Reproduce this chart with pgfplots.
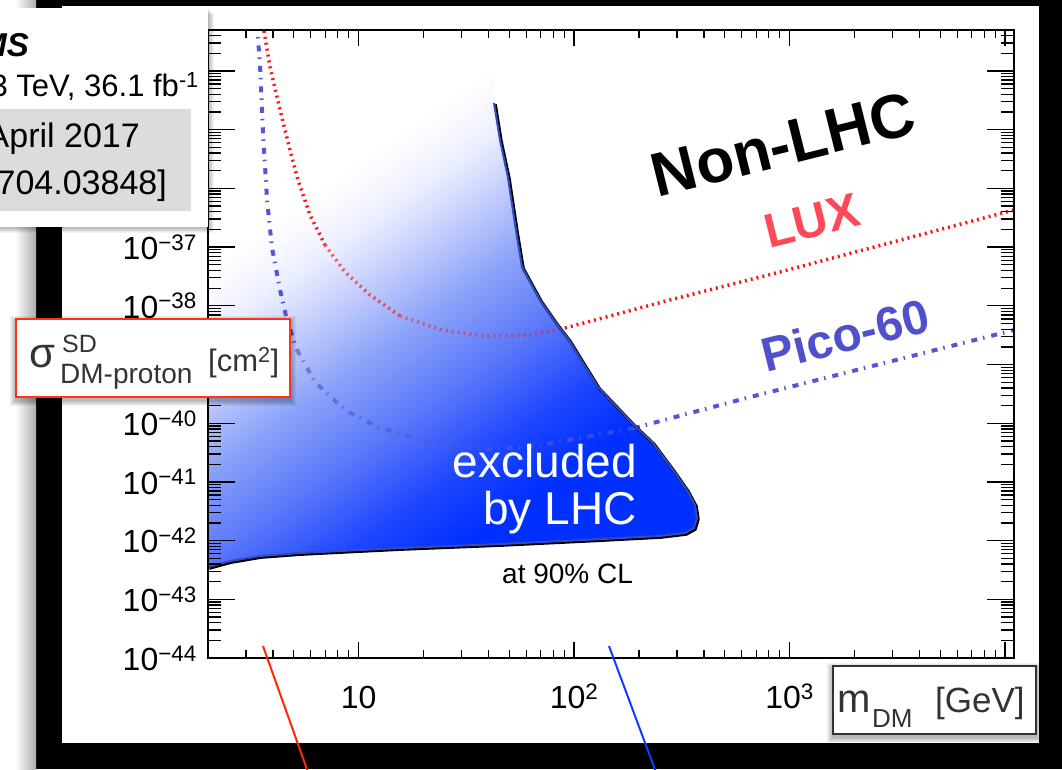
\documentclass[border=0pt]{standalone}
\usepackage{fontspec}
\setmainfont{Liberation Sans}
\usepackage{pgfplots}
\pgfplotsset{compat=1.18}
\newcommand\fs[1]{\fontsize{#1}{#1}\selectfont}
\definecolor{luxred}{RGB}{255,20,20}
\definecolor{picoblue}{RGB}{85,85,215}
\definecolor{luxtext}{RGB}{255,72,88}
\definecolor{picotext}{RGB}{80,80,205}
\definecolor{ylabred}{RGB}{255,50,20}
\definecolor{boxgray}{RGB}{220,220,220}
\definecolor{edgeblue}{RGB}{50,75,190}
\pgfdeclareverticalshading{lhcshade}{100bp}{rgb(0bp)=(0,0.188,1); rgb(30bp)=(0,0.188,1); rgb(35.9bp)=(0.118,0.275,1); rgb(42.9bp)=(0.353,0.47,0.98); rgb(50bp)=(0.55,0.64,0.975); rgb(55.7bp)=(0.76,0.8,0.99); rgb(60.6bp)=(0.92,0.933,1); rgb(64.1bp)=(0.98,0.98,1); rgb(66.3bp)=(1,1,1); rgb(100bp)=(1,1,1)}
\begin{document}
\begin{tikzpicture}
\useasboundingbox (0,0) rectangle (1062pt,769pt);
\clip (0,0) rectangle (1062pt,769pt);
\fill[black] (0,0) rectangle (1062pt,769pt);
\fill[white] (0,0) rectangle (15pt,769pt);
\shade[left color=white, right color=black!32] (15pt,0) rectangle (36pt,769pt);
\fill[white] (62pt,26pt) rectangle (1039pt,763pt);
\begin{axis}[
  at={(208pt,111pt)}, anchor=south west,
  width=806pt, height=628pt, scale only axis,
  xmode=log, ymode=log,
  xmin=2, xmax=11000, ymin=1e-44, ymax=5e-34,
  axis on top,
  axis line style={line width=2.2pt},
  every tick/.style={black, line width=1.3pt},
  xtick={10,100,1000,10000},
  xticklabels={10, 10\textsuperscript{2}, 10\textsuperscript{3}, {}},
  minor xtick={2,3,4,5,6,7,8,9,20,30,40,50,60,70,80,90,200,300,400,500,600,700,800,900,2000,3000,4000,5000,6000,7000,8000,9000},
  ytick={1e-44,1e-43,1e-42,1e-41,1e-40,1e-39,1e-38,1e-37,1e-36,1e-35,1e-34},
  yticklabels={10\textsuperscript{−44},10\textsuperscript{−43},10\textsuperscript{−42},10\textsuperscript{−41},10\textsuperscript{−40},10\textsuperscript{−39},10\textsuperscript{−38},10\textsuperscript{−37},10\textsuperscript{−36},10\textsuperscript{−35},10\textsuperscript{−34}},
  minor ytick={2e-44,3e-44,4e-44,5e-44,6e-44,7e-44,8e-44,9e-44,
               2e-43,3e-43,4e-43,5e-43,6e-43,7e-43,8e-43,9e-43,
               2e-42,3e-42,4e-42,5e-42,6e-42,7e-42,8e-42,9e-42,
               2e-41,3e-41,4e-41,5e-41,6e-41,7e-41,8e-41,9e-41,
               2e-40,3e-40,4e-40,5e-40,6e-40,7e-40,8e-40,9e-40,
               2e-39,3e-39,4e-39,5e-39,6e-39,7e-39,8e-39,9e-39,
               2e-38,3e-38,4e-38,5e-38,6e-38,7e-38,8e-38,9e-38,
               2e-37,3e-37,4e-37,5e-37,6e-37,7e-37,8e-37,9e-37,
               2e-36,3e-36,4e-36,5e-36,6e-36,7e-36,8e-36,9e-36,
               2e-35,3e-35,4e-35,5e-35,6e-35,7e-35,8e-35,9e-35,
               2e-34,3e-34,4e-34},
  xtick style={/pgfplots/major tick length=16pt,/pgfplots/minor tick length=8pt},
  ytick style={/pgfplots/major tick length=27pt,/pgfplots/minor tick length=13pt},
  xticklabel style={font=\fs{32}, anchor=base, inner sep=0pt, yshift=-50pt},
  yticklabel style={font=\fs{32}, anchor=east, inner sep=0pt, xshift=-11pt},
]
% LHC excluded region (shaded)
\addplot[draw=none, shading=lhcshade, shading angle=35] coordinates {
 (2,5e-34) (42.9,5e-34) (42.5,2.85e-35) (45.3,6.68e-36) (49.3,1.56e-36) (53.7,1.95e-37)
 (57.3,4.58e-38) (69.4,1.26e-38) (82.4,5.09e-39) (94.7,2.61e-39) (129,4.14e-40)
 (185.6,1.01e-40) (232.3,4.6e-41) (287.6,1.6e-41) (334,7.28e-42) (364,4.04e-42)
 (371.6,2.43e-42) (359.8,1.64e-42) (327,1.35e-42) (250,1.20e-42) (131.8,1.06e-42)
 (45.3,8.75e-43) (15.56,7.48e-43) (5.35,6.15e-43) (3.49,5.47e-43) (2.53,4.49e-43) (2,3.55e-43)
};
% LUX
\addplot[luxred, line width=3.5pt, dash pattern=on 2pt off 4pt] coordinates {
 (3.60,6.1e-34) (3.88,1.17e-34) (4.32,2.17e-35) (4.80,4.51e-36) (5.23,1.39e-36) (5.95,3.52e-37) (6.98,1.09e-37)};
\addplot[luxred, opacity=0.7, line width=3.5pt, dash pattern=on 2pt off 4pt] coordinates {
 (6.98,1.09e-37) (8.65,3.77e-38) (11.29,1.53e-38) (15.56,6.70e-39)};
\addplot[luxred, opacity=0.5, line width=3.5pt, dash pattern=on 2pt off 4pt] coordinates {
 (15.56,6.70e-39) (24.4,3.87e-39) (38.2,3.06e-39) (60.4,3.18e-39) (90.7,4.19e-39)};
\addplot[luxred, line width=3.5pt, dash pattern=on 2pt off 4pt] coordinates {
 (90.7,4.19e-39) (278.6,1.26e-38) (902,3.77e-38) (11000,4.3e-37)};
% Pico-60
\addplot[picoblue, line width=4pt, dash pattern=on 6pt off 6pt on 1.5pt off 7pt] coordinates {
 (3.38,6.1e-34) (3.49,1.17e-34) (3.60,8.79e-36) (3.76,6.33e-37) (3.96,1.0e-37) (4.32,1.86e-38) (4.65,5.73e-39) (5.18,1.77e-39)};
\addplot[picoblue, opacity=0.65, line width=4pt, dash pattern=on 6pt off 6pt on 1.5pt off 7pt] coordinates {
 (5.18,1.77e-39) (6.27,5.04e-40) (8.65,1.68e-40) (12.57,8.28e-41) (21.4,4.79e-41) (38.2,3.63e-41) (62.4,3.94e-41) (94.7,5.18e-41) (189.6,8.28e-41)};
\addplot[picoblue, line width=4pt, dash pattern=on 6pt off 6pt on 1.5pt off 7pt] coordinates {
 (189.6,8.28e-41) (655,2.79e-40) (11000,3.87e-39)};
% outline of the LHC limit
\addplot[black, line width=3pt, line join=round, xshift=1.3pt, yshift=-1.3pt] coordinates {
 (42.5,2.85e-35) (45.3,6.68e-36) (49.3,1.56e-36) (53.7,1.95e-37)
 (57.3,4.58e-38) (69.4,1.26e-38) (82.4,5.09e-39) (94.7,2.61e-39) (129,4.14e-40)
 (185.6,1.01e-40) (232.3,4.6e-41) (287.6,1.6e-41) (334,7.28e-42) (364,4.04e-42)
 (371.6,2.43e-42) (359.8,1.64e-42) (327,1.35e-42) (250,1.20e-42) (131.8,1.06e-42)
 (45.3,8.75e-43) (15.56,7.48e-43) (5.35,6.15e-43) (3.49,5.47e-43) (2.53,4.49e-43) (2,3.55e-43)};
\addplot[edgeblue, line width=2pt, line join=round] coordinates {
 (42.5,2.85e-35) (45.3,6.68e-36) (49.3,1.56e-36) (53.7,1.95e-37)
 (57.3,4.58e-38) (69.4,1.26e-38) (82.4,5.09e-39) (94.7,2.61e-39) (129,4.14e-40)
 (185.6,1.01e-40) (232.3,4.6e-41) (287.6,1.6e-41) (334,7.28e-42) (364,4.04e-42)
 (371.6,2.43e-42) (359.8,1.64e-42) (327,1.35e-42) (250,1.20e-42) (131.8,1.06e-42)
 (45.3,8.75e-43) (15.56,7.48e-43) (5.35,6.15e-43) (3.49,5.47e-43) (2.53,4.49e-43) (2,3.55e-43)};
\end{axis}
\begin{scope}[x=1pt,y=-1pt,yshift=769pt]
% annotations in the plot
\node[font=\bfseries\fs{62}, rotate=14] at (783,144) {Non-LHC};
\node[font=\bfseries\fs{48}, text=luxtext, rotate=14] at (812,221) {LUX};
\node[font=\bfseries\fs{48}, text=picotext, rotate=14] at (845,335) {Pico-60};
\node[font=\fs{46}, text=white, anchor=base east, inner sep=0pt] at (637,478) {excluded};
\node[font=\fs{46}, text=white, anchor=base east, inner sep=0pt] at (637,524) {by LHC};
\node[font=\fs{28}, anchor=base west, inner sep=0pt] at (502,583) {at 90\% CL};
% slide pointer lines
\draw[color={rgb,255:red,255;green,40;blue,0}, line width=2pt] (263,646) -- (309,775);
\draw[color={rgb,255:red,20;green,60;blue,255}, line width=2pt] (609,646) -- (657,775);
% CMS box
\foreach \i in {1,...,6} {\fill[black, opacity=0.05] (-10,8+\i) rectangle (208+\i,227+\i);}
\fill[white] (-10,8) rectangle (208,227);
\node[anchor=base east, inner sep=0pt, font=\bfseries\itshape\fs{33}] at (29,57) {CMS};
\node[anchor=base east, inner sep=0pt, font=\fs{31}] at (199,97) {√s = 13 TeV, 36.1 fb\textsuperscript{-1}};
\fill[boxgray] (-10,109) rectangle (191,211);
\node[anchor=base east, inner sep=0pt, font=\fs{34}] at (140,148) {April 2017};
\node[anchor=base east, inner sep=0pt, font=\fs{34}] at (167,195) {[arXiv:1704.03848]};
% y label box
\foreach \i in {1,...,6} {\fill[black, opacity=0.05] (16-\i,319-\i+3) rectangle (290+\i,397+\i+3);}
\filldraw[fill=white, draw=ylabred, line width=2.5pt] (16,319) rectangle (290,397);
\node[anchor=base west, inner sep=0pt, text=black!80, font=\fs{42}] at (29,368) {σ};
\node[anchor=base west, inner sep=0pt, text=black!80, font=\fs{25}] at (62,353) {SD};
\node[anchor=base west, inner sep=0pt, text=black!80, font=\fs{28}] at (60,384) {DM-proton};
\node[anchor=base west, inner sep=0pt, text=black!80, font=\fs{31}] at (208,372) {[cm\textsuperscript{2}]};
% x label box
\foreach \i in {1,...,6} {\fill[black, opacity=0.05] (833-\i,666-\i+3) rectangle (1036+\i,734+\i+3);}
\filldraw[fill=white, draw=black!80, line width=1.5pt] (833,666) rectangle (1036,734);
\node[anchor=base west, inner sep=0pt, font=\fs{40}, text=black!80] at (837,712) {m};
\node[anchor=base west, inner sep=0pt, font=\fs{26}, text=black!80] at (872,727) {DM};
\node[anchor=base west, inner sep=0pt, font=\fs{35}, text=black!80] at (935,712) {[GeV]};
\end{scope}
\end{tikzpicture}
\end{document}
